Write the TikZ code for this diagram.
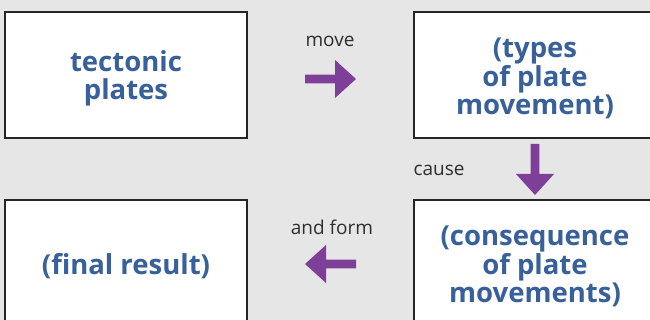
\documentclass[tikz,border=0pt]{standalone}
\usepackage{fontspec}
\setmainfont{Open Sans}
\definecolor{bggray}{HTML}{E6E6E6}
\definecolor{boxblue}{HTML}{38609A}
\definecolor{arrowpurple}{HTML}{7E3F98}
\definecolor{labelgray}{HTML}{2E2E2E}
\definecolor{edgegray}{HTML}{262626}
\tikzset{
  conceptbox/.style={draw=edgegray, line width=1.3pt, fill=white,
    minimum width=242pt, minimum height=126pt, inner sep=0pt},
  boxtext/.style={align=center, text=boxblue, inner sep=0pt, yshift=-3.5pt,
    font=\fontsize{27.5}{28.5}\selectfont\bfseries},
  linklabel/.style={anchor=base, text=labelgray, inner sep=0pt,
    font=\fontsize{19}{22}\selectfont},
  pics/bigarrow/.style={code={
    \fill[arrowpurple] (0,-4.3) -- (30,-4.3) -- (30,-19) -- (51,0)
      -- (30,19) -- (30,4.3) -- (0,4.3) -- cycle;
  }}
}
\begin{document}
\begin{tikzpicture}[x=1pt, y=1pt]
  % page area and background
  \fill[bggray] (0,0) rectangle (650,320);
  \useasboundingbox (0,0) rectangle (650,320);
  \clip (0,0) rectangle (650,320);

  % the four concept boxes
  \node[conceptbox] (plates)  at (126,245) {};
  \node[conceptbox] (types)   at (535,245) {};
  \node[conceptbox] (conseq)  at (535,57)  {};
  \node[conceptbox] (result)  at (126,57)  {};

  % their texts
  \node[boxtext] (plates-t) at (plates.center) {tectonic\\plates};
  \node[boxtext] (types-t)  at (types.center)  {(types\\of plate\\movement)};
  \node[boxtext] (conseq-t) at (conseq.center) {(consequence\\of plate\\movements)};
  \node[boxtext] (result-t) at (result.center) {(final result)};

  % linking arrows
  \pic at (305,241) {bigarrow};
  \pic[rotate=-90] at (535,176) {bigarrow};
  \pic[rotate=180] at (356,56) {bigarrow};

  % linking words
  \node[linklabel] (lmove)  at (330,273.3) {move};
  \node[linklabel] (lcause) at (439,144.5) {cause};
  \node[linklabel] (lform)  at (332,85)    {and form};
\end{tikzpicture}
\end{document}
